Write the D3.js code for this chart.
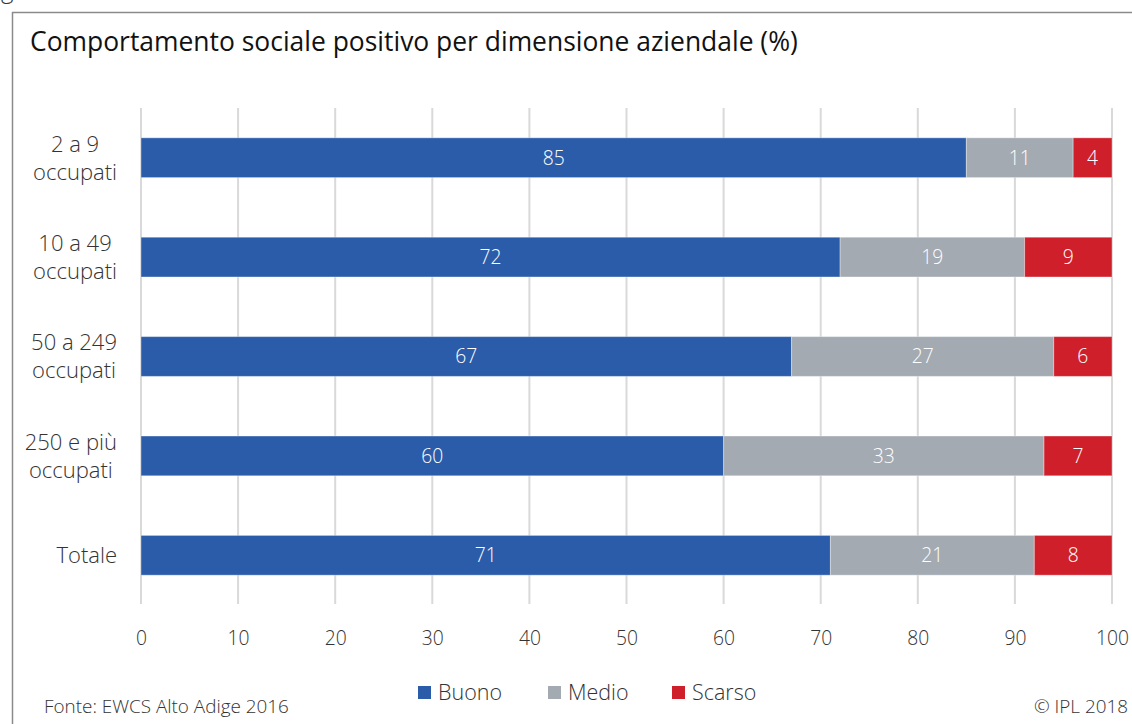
<!DOCTYPE html>
<html><head><meta charset="utf-8">
<script src="https://cdn.jsdelivr.net/npm/d3@7"></script>
<style>
html,body{margin:0;padding:0;background:#fff;}
svg{display:block;font-family:"Open Sans","Lato",sans-serif;font-weight:300;}
</style></head>
<body>
<svg id="chart" width="1132" height="724"></svg>
<script>
const categories = ["2 a 9 occupati", "10 a 49 occupati", "50 a 249 occupati", "250 e più occupati", "Totale"];
const categoryLines = [["2 a 9", "occupati"], ["10 a 49", "occupati"], ["50 a 249", "occupati"], ["250 e più", "occupati"], ["Totale"]];
const seriesNames = ["Buono", "Medio", "Scarso"];
const buono = [85, 72, 67, 60, 71];
const medio = [11, 19, 27, 33, 21];
const scarso = [4, 9, 6, 7, 8];
const xTicks = [0, 10, 20, 30, 40, 50, 60, 70, 80, 90, 100];
const colors = ["#2B5CAA", "#A3AAB2", "#CF1F2A"];
const title = "Comportamento sociale positivo per dimensione aziendale (%)";
const source = "Fonte: EWCS Alto Adige 2016";
const copyright = "© IPL 2018";

const svg = d3.select("#chart");

// font size that makes a string reach a target width
function fitSize(str, targetW, weight) {
  const t = svg.append("text").attr("font-size", 100).attr("font-weight", weight || 300).text(str);
  const w = t.node().getComputedTextLength();
  t.remove();
  return 100 * targetW / w;
}
const titleSize = fitSize(title, 768, 400);
const labelSize = fitSize("occupati", 84);
const tickSize = fitSize("100", 33);
const valueSize = fitSize("85", 22);
const legendSize = fitSize("Buono", 64);
const footSize = fitSize(source, 245);

// frame
svg.append("line").attr("x1", 12).attr("x2", 1132).attr("y1", 12.5).attr("y2", 12.5).attr("stroke", "#8a8a8a").attr("stroke-width", 1.5);
svg.append("line").attr("x1", 12.5).attr("x2", 12.5).attr("y1", 12).attr("y2", 724).attr("stroke", "#8a8a8a").attr("stroke-width", 1.5);
svg.append("text").attr("x", 1).attr("y", -2).attr("font-size", 24).attr("fill", "#333").text("g");

// title
svg.append("text").attr("x", 30).attr("y", 51).attr("font-size", titleSize).attr("font-weight", 400).attr("fill", "#111").text(title);

const x = d3.scaleLinear().domain([0, 100]).range([141, 1112]);
const y = d3.scaleBand().domain(categories).range([108, 605]).paddingInner(0.6).paddingOuter(0.3);

// grid
svg.append("g").selectAll("line").data(xTicks).join("line")
  .attr("x1", d => x(d)).attr("x2", d => x(d))
  .attr("y1", 108).attr("y2", 604)
  .attr("stroke", "#d9d9d9").attr("stroke-width", 2);

// axis labels
const xAxis = d3.axisBottom(x).tickValues(xTicks).tickSize(0).tickPadding(0);
const ax = svg.append("g").attr("transform", "translate(0,645)").call(xAxis);
ax.attr("font-family", null).attr("font-size", null);
ax.select(".domain").remove();
ax.selectAll("text").attr("font-size", tickSize).attr("fill", "#333").attr("dy", 0);

// stacked bars
const rows = categories.map((c, i) => ({cat: c, Buono: buono[i], Medio: medio[i], Scarso: scarso[i]}));
const stack = d3.stack().keys(seriesNames)(rows);
const layers = svg.append("g").selectAll("g").data(stack).join("g").attr("fill", (d, i) => colors[i]);
layers.selectAll("rect").data(d => d).join("rect")
  .attr("x", d => x(d[0])).attr("width", d => x(d[1]) - x(d[0]))
  .attr("y", d => y(d.data.cat)).attr("height", y.bandwidth())
  .attr("stroke", "#ffffff").attr("stroke-opacity", 0.35).attr("stroke-width", 1);
layers.selectAll("text").data(d => d).join("text")
  .attr("x", d => (x(d[0]) + x(d[1])) / 2)
  .attr("y", d => y(d.data.cat) + y.bandwidth() / 2)
  .attr("dy", "0.36em").attr("text-anchor", "middle")
  .attr("font-size", valueSize).attr("fill", "#ffffff")
  .text(d => d[1] - d[0]);

// category labels
const catG = svg.append("g");
categories.forEach((c, i) => {
  const lines = categoryLines[i];
  const lh = 28;
  const cy = y(c) + y.bandwidth() / 2;
  const t = catG.append("text").attr("font-size", labelSize).attr("fill", "#333").attr("text-anchor", "middle");
  lines.forEach((l, j) => {
    t.append("tspan").attr("y", cy + (j - (lines.length - 1) / 2) * lh).attr("dy", "0.36em").text(l);
  });
  let maxW = 0;
  t.selectAll("tspan").each(function () { maxW = Math.max(maxW, this.getComputedTextLength()); });
  t.selectAll("tspan").attr("x", 117 - maxW / 2);
});

// legend
const legX = [418, 548, 672];
const leg = svg.append("g").selectAll("g").data(seriesNames).join("g")
  .attr("transform", (d, i) => `translate(${legX[i]},686)`);
leg.append("rect").attr("width", 13).attr("height", 13).attr("fill", (d, i) => colors[i]);
leg.append("text").attr("x", 20).attr("y", 14).attr("font-size", legendSize).attr("fill", "#333").text(d => d);

// footer
svg.append("text").attr("x", 44).attr("y", 713).attr("font-size", footSize).attr("fill", "#333").text(source);
svg.append("text").attr("x", 1128).attr("y", 713).attr("text-anchor", "end").attr("font-size", footSize).attr("fill", "#333").text(copyright);
</script>
</body></html>
